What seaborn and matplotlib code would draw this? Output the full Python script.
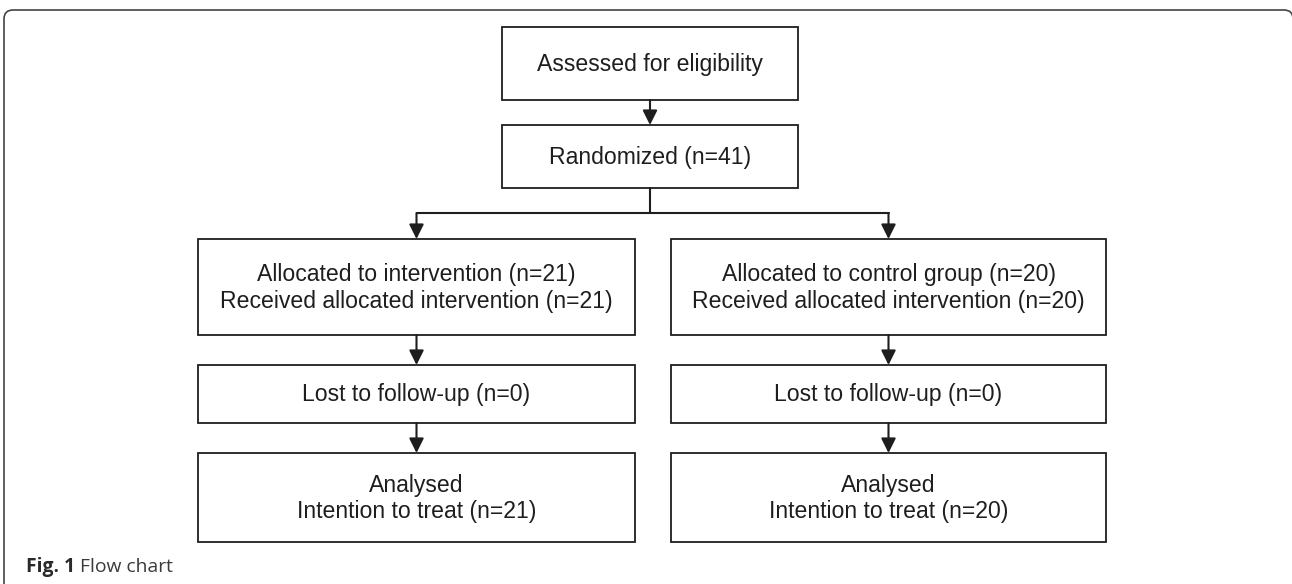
"""CONSORT-style flow chart redrawn with matplotlib on a seaborn theme."""
import matplotlib
matplotlib.use("Agg")
import matplotlib.pyplot as plt
from matplotlib.patches import Rectangle, FancyArrowPatch
from matplotlib.path import Path as MPath
from matplotlib.patches import PathPatch
import seaborn as sns

# Box texts
top_labels = ["Assessed for eligibility", "Randomized (n=41)"]
left_labels = [
    "Allocated to intervention (n=21)\nReceived allocated intervention (n=21)",
    "Lost to follow-up (n=0)",
    "Analysed\nIntention to treat (n=21)",
]
right_labels = [
    "Allocated to control group (n=20)\nReceived allocated intervention (n=20)",
    "Lost to follow-up (n=0)",
    "Analysed\nIntention to treat (n=20)",
]
caption_bold = "Fig. 1"
caption_text = "Flow chart"

sns.set_theme(style="white")
plt.rcParams["font.family"] = ["Liberation Sans", "DejaVu Sans"]

INK = "#1e1e1e"
W, H = 1292, 584
fig = plt.figure(figsize=(W / 100, H / 100), dpi=100)
ax = fig.add_axes([0, 0, 1, 1])
ax.set_xlim(0, W)
ax.set_ylim(H, 0)
ax.axis("off")

# layout (pixel coordinates)
top_x = (502, 798)
top_rows = [(27, 100), (125, 188)]
left_x = (198, 635)
right_x = (671, 1106)
col_rows = [(239, 335), (365, 423), (453, 542)]
split_y = 213


def box(x0, x1, y0, y1, text):
    ax.add_patch(Rectangle((x0, y0), x1 - x0, y1 - y0, fill=False,
                           edgecolor=INK, lw=1.3))
    ax.text((x0 + x1) / 2, (y0 + y1) / 2 + 1, text, ha="center", va="center",
            fontsize=16.6, color=INK, linespacing=1.22)


def arrow(x, y0, y1):
    ax.add_patch(FancyArrowPatch((x, y0), (x, y1), arrowstyle="-|>",
                                 mutation_scale=22, color=INK, lw=1.5,
                                 shrinkA=0, shrinkB=0))


for (y0, y1), lab in zip(top_rows, top_labels):
    box(top_x[0], top_x[1], y0, y1, lab)
arrow((top_x[0] + top_x[1]) / 2, top_rows[0][1], top_rows[1][0])

for xs, labels in ((left_x, left_labels), (right_x, right_labels)):
    cx = (xs[0] + xs[1]) / 2
    for (y0, y1), lab in zip(col_rows, labels):
        box(xs[0], xs[1], y0, y1, lab)
    arrow(cx, split_y, col_rows[0][0])
    for a, b in zip(col_rows[:-1], col_rows[1:]):
        arrow(cx, a[1], b[0])

# split connector
mid = (top_x[0] + top_x[1]) / 2
lcx = (left_x[0] + left_x[1]) / 2
rcx = (right_x[0] + right_x[1]) / 2
ax.plot([mid, mid], [top_rows[1][1], split_y], color=INK, lw=1.5)
ax.plot([lcx, rcx], [split_y, split_y], color=INK, lw=1.5)

# outer frame (rounded top corners, open at the bottom, right side cut off)
r = 9
verts = [(4, H + 5), (4, 10 + r), (4, 10), (4 + r, 10), (W + 1 - r, 10),
         (W + 1, 10), (W + 1, 10 + r), (W + 1, H + 5)]
codes = [MPath.MOVETO, MPath.LINETO, MPath.CURVE3, MPath.CURVE3, MPath.LINETO,
         MPath.CURVE3, MPath.CURVE3, MPath.LINETO]
ax.add_patch(PathPatch(MPath(verts, codes), fill=False, edgecolor="#444444", lw=1.2))

# caption
t = ax.text(26, 567, caption_bold + " ", ha="left", va="center", fontsize=13.9,
            fontweight="bold", family=["Open Sans", "DejaVu Sans"], color="#2a2a2a")
fig.canvas.draw()
bb = t.get_window_extent()
x_next = ax.transData.inverted().transform((bb.x1, 0))[0]
ax.text(x_next, 567, caption_text, ha="left", va="center", fontsize=13.9,
        family=["Open Sans", "DejaVu Sans"], color="#3a3a3a")

fig.savefig("out.png", dpi=100)
plt.close(fig)
